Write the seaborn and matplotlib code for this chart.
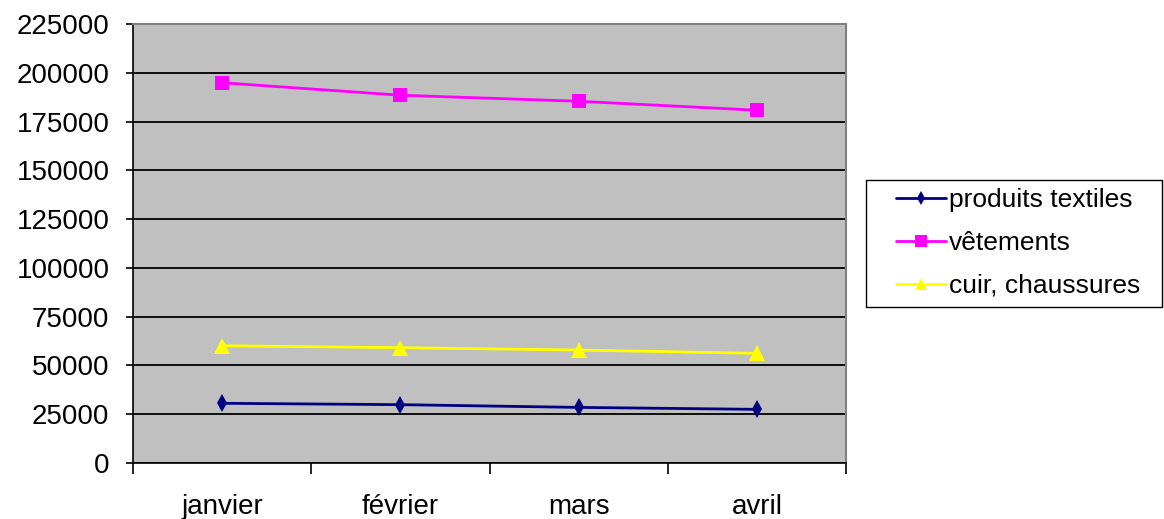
import matplotlib
matplotlib.use("Agg")
import matplotlib.pyplot as plt
import seaborn as sns
import pandas as pd
from matplotlib.lines import Line2D
from matplotlib.patches import Rectangle

# Monthly figures by sector
mois = ["janvier", "février", "mars", "avril"]
produits_textiles = [30600, 29900, 28500, 27500]
vetements = [194900, 188500, 185400, 180800]
cuir_chaussures = [60100, 59100, 57900, 56200]

series_names = ["produits textiles", "vêtements", "cuir, chaussures"]
series_values = [produits_textiles, vetements, cuir_chaussures]
y_ticks = list(range(0, 225001, 25000))

colors = {"produits textiles": "#000080", "vêtements": "#ff00ff", "cuir, chaussures": "#ffff00"}
markers = {"produits textiles": "d", "vêtements": "s", "cuir, chaussures": "^"}
msizes = {"produits textiles": 9, "vêtements": 10, "cuir, chaussures": 11}

df = pd.DataFrame(
    [(m, name, v) for name, vals in zip(series_names, series_values) for m, v in zip(mois, vals)],
    columns=["mois", "serie", "valeur"],
)

sns.set_theme(style="white")
plt.rcParams["font.family"] = ["Liberation Sans", "DejaVu Sans"]
plt.rcParams["text.color"] = "black"
plt.rcParams["xtick.color"] = "black"
plt.rcParams["ytick.color"] = "black"

W, H = 1164, 519
fig = plt.figure(figsize=(W / 100, H / 100), dpi=100)
ax = fig.add_axes([133 / W, 1 - 463 / H, (846 - 133) / W, (463 - 24) / H])
ax.set_facecolor("#c0c0c0")

for name in series_names:
    sub = df[df["serie"] == name]
    sns.lineplot(
        data=sub, x="mois", y="valeur", ax=ax, color=colors[name],
        marker=markers[name], markersize=msizes[name], markeredgewidth=0,
        linewidth=2, sort=False, legend=False,
    )

ax.set_xlim(-0.5, 3.5)
ax.set_ylim(0, 225000)
ax.set_yticks(y_ticks)
ax.set_yticklabels([str(t) for t in y_ticks], fontsize=20)
ax.yaxis.grid(True, color="black", linewidth=1.3)
ax.xaxis.grid(False)
ax.set_axisbelow(True)

# category boundaries carry the tick marks, labels sit at category centres
ax.set_xticks([-0.5, 0.5, 1.5, 2.5, 3.5])
ax.set_xticklabels([])
ax.set_xticks(range(len(mois)), minor=True)
ax.set_xticklabels(mois, minor=True, fontsize=20)
ax.tick_params(axis="x", which="major", direction="out", length=8, width=1.2, color="black", bottom=True)
ax.tick_params(axis="x", which="minor", length=0, pad=22)
ax.tick_params(axis="y", direction="out", length=5, width=1.2, color="black", left=True, pad=12)
ax.set_xlabel("")
ax.set_ylabel("")

for side in ["left", "bottom"]:
    ax.spines[side].set_color("black")
    ax.spines[side].set_linewidth(1.2)
for side in ["top", "right"]:
    ax.spines[side].set_color("#808080")
    ax.spines[side].set_linewidth(1.5)

# legend box
fig.patches.append(Rectangle(
    (866 / W, 1 - 307 / H), (1162 - 866) / W, (307 - 180) / H,
    transform=fig.transFigure, facecolor="white", edgecolor="black", linewidth=1, zorder=1,
))

handles = [
    Line2D([0], [0], color=colors[n], marker=markers[n], markersize=msizes[n] - 2,
           markeredgewidth=0, linewidth=2, label=n)
    for n in series_names
]
leg = fig.legend(
    handles=handles, loc="upper left", bbox_to_anchor=(896 / W, 1 - 188 / H),
    fontsize=19, frameon=False, handlelength=1.9, handletextpad=0.1,
    borderpad=0, borderaxespad=0, labelspacing=0.72,
)
leg.set_zorder(2)

fig.savefig("out.png", dpi=100)
